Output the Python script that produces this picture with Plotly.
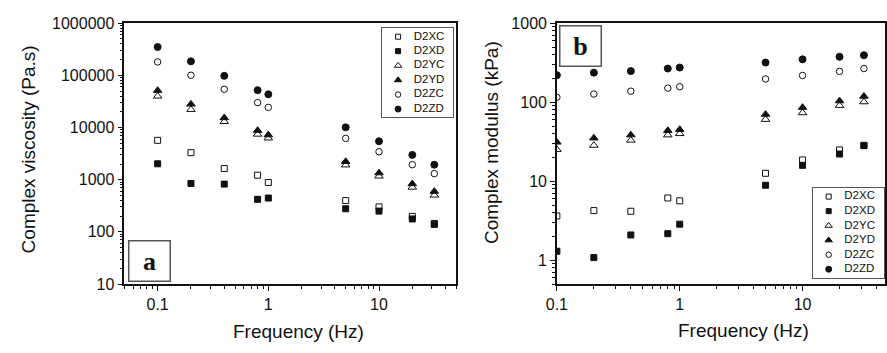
import math
import plotly.graph_objects as go

# ---------------- data ----------------
freq = [0.1, 0.2, 0.4, 0.8, 1, 5, 10, 20, 31.6]
series_names = ["D2XC", "D2XD", "D2YC", "D2YD", "D2ZC", "D2ZD"]

visc_D2XC = [5690, 3300, 1640, 1220, 884, 398, 301, 198, 145]
visc_D2XD = [2020, 848, 824, 421, 445, 277, 250, 177, 139]
visc_D2YC = [39900, 22150, 13000, 7430, 6280, 1910, 1170, 716, 505]
visc_D2YD = [51300, 28100, 15400, 8790, 7220, 2230, 1350, 836, 597]
visc_D2ZC = [181000, 100500, 54300, 30100, 24400, 6200, 3440, 1940, 1310]
visc_D2ZD = [350000, 186000, 98000, 52000, 43400, 10100, 5460, 2990, 1940]

mod_D2XC = [3.63, 4.25, 4.17, 6.14, 5.65, 12.6, 18.6, 24.9, 28.5]
mod_D2XD = [1.30, 1.08, 2.09, 2.17, 2.86, 8.9, 15.9, 22.1, 28.2]
mod_D2YC = [25.2, 28.4, 33.0, 38.5, 40.0, 60.5, 73.5, 90.9, 101]
mod_D2YD = [31.2, 35.2, 38.5, 43.8, 45.1, 70.2, 85.9, 104, 119]
mod_D2ZC = [115.5, 127, 138, 151, 157, 197, 218, 246, 267]
mod_D2ZD = [220, 237, 248, 267, 275, 318, 349, 376, 394]

x_tick_vals = [0.1, 1, 10]
x_tick_text = ["0.1", "1", "10"]
ya_tick_vals = [10, 100, 1000, 10000, 100000, 1000000]
ya_tick_text = ["10", "100", "1000", "10000", "100000", "1000000"]
yb_tick_vals = [1, 10, 100, 1000]
yb_tick_text = ["1", "10", "100", "1000"]

visc = [visc_D2XC, visc_D2XD, visc_D2YC, visc_D2YD, visc_D2ZC, visc_D2ZD]
mod = [mod_D2XC, mod_D2XD, mod_D2YC, mod_D2YD, mod_D2ZC, mod_D2ZD]

# ---------------- styles ----------------
symbols = ["square-open", "square", "triangle-up-open", "triangle-up", "circle-open", "circle"]
sizes = [6, 6, 7.5, 7.5, 6.5, 7]
INK = "#111111"
FONT = "Liberation Sans, Arial, sans-serif"

W, H = 887, 353


def px_x(p):
    return p / W


def px_y(p):
    return 1 - p / H


def minor_vals(dec_lo, dec_hi):
    return [k * 10.0 ** d for d in range(dec_lo, dec_hi + 1) for k in range(2, 10)]


fig = go.Figure()

for name, sym, sz, ya_vals, yb_vals in zip(series_names, symbols, sizes, visc, mod):
    mk = dict(symbol=sym, size=sz, color=INK, line=dict(color=INK, width=1))
    fig.add_trace(go.Scatter(x=freq, y=ya_vals, mode="markers", name=name, marker=mk,
                             xaxis="x", yaxis="y", showlegend=False))
    fig.add_trace(go.Scatter(x=freq, y=yb_vals, mode="markers", name=name, marker=mk,
                             xaxis="x2", yaxis="y2", showlegend=False))

# legend boxes drawn as small category subplots
for xa, ya in (("x3", "y3"), ("x4", "y4")):
    for name, sym, sz in zip(series_names, symbols, sizes):
        mk = dict(symbol=sym, size=sz - 1, color=INK, line=dict(color=INK, width=1))
        fig.add_trace(go.Scatter(x=[0.22], y=[name], mode="markers", marker=mk,
                                 xaxis=xa, yaxis=ya, showlegend=False, hoverinfo="skip"))
        fig.add_trace(go.Scatter(x=[0.44], y=[name], mode="text", text=[name],
                                 textposition="middle right",
                                 textfont=dict(family=FONT, size=11.5, color=INK),
                                 xaxis=xa, yaxis=ya, showlegend=False, hoverinfo="skip"))

tickfont = dict(family=FONT, size=16, color=INK)


def main_axis(domain, rng, tv, tt, anchor, mvals):
    return dict(domain=domain, type="log", range=rng, anchor=anchor,
                tickmode="array", tickvals=tv, ticktext=tt,
                ticks="outside", ticklen=5, tickwidth=1.2, tickcolor=INK,
                showline=True, linecolor=INK, linewidth=1.5, mirror=True,
                showgrid=False, zeroline=False, tickfont=tickfont,
                minor=dict(tickmode="array", tickvals=mvals, ticks="outside", ticklen=3,
                           tickcolor=INK, tickwidth=1, showgrid=False))


ydom = [px_y(290), px_y(16)]

legend_axis_x = dict(range=[0, 1], showline=True, mirror=True, linecolor="#555555", linewidth=1,
                     showticklabels=False, ticks="", showgrid=False, zeroline=False, fixedrange=True)
legend_axis_y = dict(type="category", categoryorder="array", categoryarray=series_names,
                     range=[5.58, -0.58], showline=True, mirror=True, linecolor="#555555",
                     linewidth=1, showticklabels=False, ticks="", showgrid=False, zeroline=False,
                     fixedrange=True)

fig.update_layout(
    width=W, height=H,
    margin=dict(l=0, r=0, t=0, b=0),
    paper_bgcolor="white", plot_bgcolor="white",
    showlegend=False,
    xaxis=main_axis([px_x(115), px_x(452)], [math.log10(0.05), math.log10(50)],
                    x_tick_vals, x_tick_text, "y", minor_vals(-2, 1)),
    yaxis=main_axis(ydom, [1, 6], ya_tick_vals, ya_tick_text, "x", minor_vals(1, 5)),
    xaxis2=main_axis([px_x(554), 1.0], [-1, 1 + (887 - 803.3) / 124.7],
                     x_tick_vals, x_tick_text, "y2", minor_vals(-1, 1)),
    yaxis2=main_axis(ydom, [math.log10(0.5), 3], yb_tick_vals, yb_tick_text, "x2",
                     minor_vals(-1, 2)),
    xaxis3=dict(legend_axis_x, domain=[px_x(377), px_x(449)], anchor="y3"),
    yaxis3=dict(legend_axis_y, domain=[px_y(115), px_y(21.3)], anchor="x3"),
    xaxis4=dict(legend_axis_x, domain=[px_x(814), px_x(886)], anchor="y4"),
    yaxis4=dict(legend_axis_y, domain=[px_y(283.3), px_y(189.3)], anchor="x4"),
)

title_font = dict(family=FONT, size=19, color=INK)
annotations = [
    dict(text="Frequency (Hz)", x=px_x(291.7), y=px_y(340), xref="paper", yref="paper",
         showarrow=False, xanchor="center", yanchor="middle", font=title_font),
    dict(text="Frequency (Hz)", x=px_x(743.7), y=px_y(338.5), xref="paper", yref="paper",
         showarrow=False, xanchor="center", yanchor="middle", font=title_font),
    dict(text="Complex viscosity (Pa.s)", x=px_x(17.5), y=px_y(148.3), xref="paper", yref="paper",
         showarrow=False, xanchor="center", yanchor="middle", textangle=-90, font=title_font),
    dict(text="Complex modulus (kPa)", x=px_x(488.3), y=px_y(141.7), xref="paper", yref="paper",
         showarrow=False, xanchor="center", yanchor="middle", textangle=-90, font=title_font),
    dict(text="<b>a</b>", x=px_x(140.6), y=px_y(265.5), xref="paper", yref="paper",
         showarrow=False, xanchor="center", yanchor="middle", width=40, height=39,
         borderpad=0, bordercolor="#555555", borderwidth=1.5, bgcolor="white",
         font=dict(family="Liberation Serif, Times New Roman, serif", size=26, color=INK)),
    dict(text="<b>b</b>", x=px_x(578.3), y=px_y(40.3), xref="paper", yref="paper",
         showarrow=False, xanchor="center", yanchor="middle", width=40, height=39,
         borderpad=0, bordercolor="#555555", borderwidth=1.5, bgcolor="white",
         font=dict(family="Liberation Serif, Times New Roman, serif", size=26, color=INK)),
]
fig.update_layout(annotations=annotations)

fig.write_html("out.html")
